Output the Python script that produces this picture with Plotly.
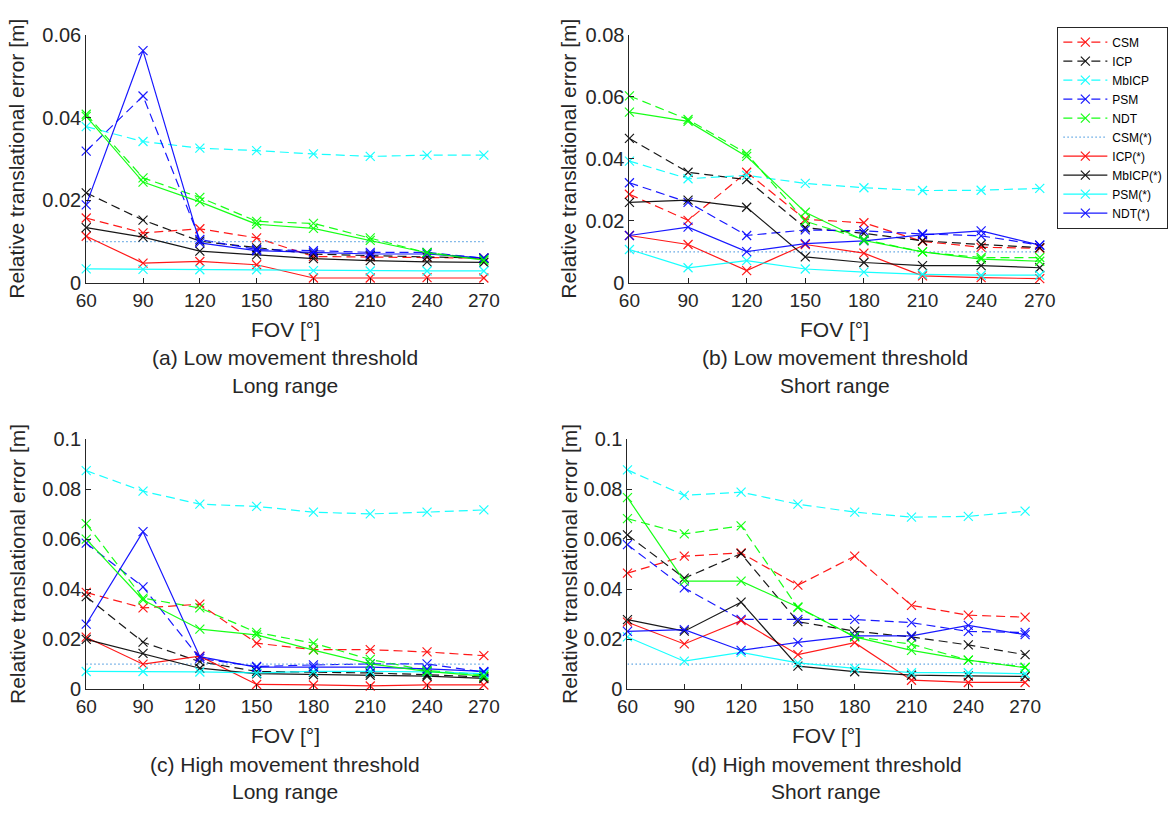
import plotly.graph_objects as go

W, H = 1173, 816

fov = [60, 90, 120, 150, 180, 210, 240, 270]
xtick_labels = ["60", "90", "120", "150", "180", "210", "240", "270"]

# ---------- (a) Low movement threshold, Long range ----------
CSM_a = [0.0157, 0.0121, 0.0131, 0.0109, 0.0064, 0.0063, 0.0062, 0.0060]
ICP_a = [0.0218, 0.0152, 0.0101, 0.0085, 0.0070, 0.0066, 0.0063, 0.0060]
MbICP_a = [0.0378, 0.0342, 0.0326, 0.0320, 0.0312, 0.0306, 0.0309, 0.0309]
PSM_a = [0.0319, 0.0452, 0.0105, 0.0081, 0.0078, 0.0074, 0.0074, 0.0060]
NDT_a = [0.0408, 0.0254, 0.0207, 0.0149, 0.0144, 0.0109, 0.0073, 0.0058]
CSMs_a = [0.01, 0.01, 0.01, 0.01, 0.01, 0.01, 0.01, 0.01]
ICPs_a = [0.0113, 0.0048, 0.0052, 0.0044, 0.0012, 0.0012, 0.0013, 0.0012]
MbICPs_a = [0.0134, 0.0111, 0.0077, 0.0068, 0.0059, 0.0054, 0.0051, 0.0050]
PSMs_a = [0.0034, 0.0033, 0.0032, 0.0032, 0.0030, 0.0029, 0.0029, 0.0029]
NDTs_a = [0.0189, 0.0562, 0.0097, 0.0078, 0.0074, 0.0070, 0.0070, 0.0060]
GREEN_a = [0.0403, 0.0244, 0.0196, 0.0142, 0.0132, 0.0103, 0.0073, 0.0055]

# ---------- (b) Low movement threshold, Short range ----------
CSM_b = [0.0286, 0.0202, 0.0357, 0.0205, 0.0194, 0.0134, 0.0115, 0.0112]
ICP_b = [0.0466, 0.0357, 0.0333, 0.0178, 0.0160, 0.0136, 0.0124, 0.0114]
MbICP_b = [0.0393, 0.0336, 0.0347, 0.0321, 0.0307, 0.0298, 0.0299, 0.0305]
PSM_b = [0.0323, 0.0260, 0.0153, 0.0171, 0.0168, 0.0158, 0.0152, 0.0122]
NDT_b = [0.0603, 0.0527, 0.0417, 0.0199, 0.0140, 0.0100, 0.0082, 0.0082]
CSMs_b = [0.01, 0.01, 0.01, 0.01, 0.01, 0.01, 0.01, 0.01]
ICPs_b = [0.0153, 0.0124, 0.0040, 0.0124, 0.0096, 0.0023, 0.0017, 0.0014]
MbICPs_b = [0.0260, 0.0267, 0.0244, 0.0084, 0.0066, 0.0056, 0.0056, 0.0049]
PSMs_b = [0.0108, 0.0049, 0.0072, 0.0045, 0.0035, 0.0028, 0.0025, 0.0025]
NDTs_b = [0.0153, 0.0180, 0.0101, 0.0127, 0.0136, 0.0155, 0.0168, 0.0122]
GREEN_b = [0.0551, 0.0521, 0.0408, 0.0228, 0.0137, 0.0100, 0.0077, 0.0070]

# ---------- (c) High movement threshold, Long range ----------
CSM_c = [0.0387, 0.0325, 0.0340, 0.0184, 0.0158, 0.0158, 0.0149, 0.0134]
ICP_c = [0.0370, 0.0188, 0.0110, 0.0071, 0.0068, 0.0065, 0.0058, 0.0049]
MbICP_c = [0.0874, 0.0792, 0.0740, 0.0731, 0.0708, 0.0701, 0.0708, 0.0717]
PSM_c = [0.0584, 0.0409, 0.0123, 0.0091, 0.0097, 0.0101, 0.0101, 0.0068]
NDT_c = [0.0662, 0.0364, 0.0325, 0.0227, 0.0184, 0.0119, 0.0075, 0.0058]
CSMs_c = [0.01, 0.01, 0.01, 0.01, 0.01, 0.01, 0.01, 0.01]
ICPs_c = [0.0208, 0.0100, 0.0132, 0.0019, 0.0017, 0.0013, 0.0017, 0.0017]
MbICPs_c = [0.0199, 0.0143, 0.0084, 0.0062, 0.0058, 0.0056, 0.0052, 0.0043]
PSMs_c = [0.0071, 0.0071, 0.0069, 0.0065, 0.0071, 0.0071, 0.0069, 0.0062]
NDTs_c = [0.0260, 0.0630, 0.0130, 0.0088, 0.0088, 0.0088, 0.0081, 0.0071]
GREEN_c = [0.0600, 0.0357, 0.0240, 0.0217, 0.0156, 0.0101, 0.0071, 0.0052]

# ---------- (d) High movement threshold, Short range ----------
CSM_d = [0.0464, 0.0532, 0.0545, 0.0416, 0.0532, 0.0335, 0.0296, 0.0288]
ICP_d = [0.0617, 0.0444, 0.0542, 0.0270, 0.0232, 0.0209, 0.0177, 0.0138]
MbICP_d = [0.0877, 0.0775, 0.0788, 0.0740, 0.0708, 0.0688, 0.0691, 0.0712]
PSM_d = [0.0578, 0.0405, 0.0279, 0.0279, 0.0279, 0.0266, 0.0231, 0.0227]
NDT_d = [0.0682, 0.0621, 0.0653, 0.0326, 0.0210, 0.0180, 0.0116, 0.0088]
CSMs_d = [0.01, 0.01, 0.01, 0.01, 0.01, 0.01, 0.01, 0.01]
ICPs_d = [0.0268, 0.0181, 0.0274, 0.0138, 0.0186, 0.0036, 0.0027, 0.0027]
MbICPs_d = [0.0278, 0.0232, 0.0348, 0.0092, 0.0070, 0.0056, 0.0053, 0.0051]
PSMs_d = [0.0209, 0.0112, 0.0147, 0.0105, 0.0083, 0.0066, 0.0066, 0.0062]
NDTs_d = [0.0231, 0.0238, 0.0155, 0.0187, 0.0213, 0.0213, 0.0255, 0.0218]
GREEN_d = [0.0766, 0.0432, 0.0432, 0.0329, 0.0209, 0.0155, 0.0116, 0.0086]

legend_names = ["CSM", "ICP", "MbICP", "PSM", "NDT",
                "CSM(*)", "ICP(*)", "MbICP(*)", "PSM(*)", "NDT(*)"]

captions = [("(a) Low movement threshold", "Long range"),
            ("(b) Low movement threshold", "Short range"),
            ("(c) High movement threshold", "Long range"),
            ("(d) High movement threshold", "Short range")]

y_max = [0.06, 0.08, 0.1, 0.1]
y_ticks = [[0, 0.02, 0.04, 0.06], [0, 0.02, 0.04, 0.06, 0.08],
           [0, 0.02, 0.04, 0.06, 0.08, 0.1], [0, 0.02, 0.04, 0.06, 0.08, 0.1]]
y_ticktext = [["0", "0.02", "0.04", "0.06"], ["0", "0.02", "0.04", "0.06", "0.08"],
              ["0", "0.02", "0.04", "0.06", "0.08", "0.1"],
              ["0", "0.02", "0.04", "0.06", "0.08", "0.1"]]

panels = [
    [CSM_a, ICP_a, MbICP_a, PSM_a, NDT_a, CSMs_a, ICPs_a, MbICPs_a, PSMs_a, NDTs_a, GREEN_a],
    [CSM_b, ICP_b, MbICP_b, PSM_b, NDT_b, CSMs_b, ICPs_b, MbICPs_b, PSMs_b, NDTs_b, GREEN_b],
    [CSM_c, ICP_c, MbICP_c, PSM_c, NDT_c, CSMs_c, ICPs_c, MbICPs_c, PSMs_c, NDTs_c, GREEN_c],
    [CSM_d, ICP_d, MbICP_d, PSM_d, NDT_d, CSMs_d, ICPs_d, MbICPs_d, PSMs_d, NDTs_d, GREEN_d],
]

# styles: (color, dash, marker?)
DASH = "9px,5px"
styles = [
    ("#FF0000", DASH, True), ("#000000", DASH, True), ("#00FFFF", DASH, True),
    ("#0000FF", DASH, True), ("#00FF00", DASH, True),
    ("#4D9BE0", "1.5px,2.5px", False),
    ("#FF0000", "solid", True), ("#000000", "solid", True), ("#00FFFF", "solid", True),
    ("#0000FF", "solid", True), ("#00FF00", "solid", True),
]

# axis pixel boxes: (left, right, top, bottom)
boxes = [(77, 484, 24.5, 279.5), (633, 1053, 24.5, 279.5),
         (77, 484, 440, 697), (631, 1038, 440, 697)]

fig = go.Figure()
FONT = "Liberation Sans, Arial, Helvetica, sans-serif"
AX = "#262626"

for p, series in enumerate(panels):
    xa = "x" if p == 0 else f"x{p+1}"
    ya = "y" if p == 0 else f"y{p+1}"
    for i, vals in enumerate(series):
        color, dash, mk = styles[i]
        fig.add_trace(go.Scatter(
            x=fov, y=vals, xaxis=xa, yaxis=ya,
            mode="lines+markers" if mk else "lines",
            name=legend_names[i] if i < 10 else "NDT solid",
            legendgroup=str(i),
            showlegend=(p == 0 and i < 10),
            line=dict(color=color, width=1.2, dash=dash),
            marker=dict(symbol="x-thin-open", size=9,
                        line=dict(color=color, width=1.2)),
            opacity=0.9,
            cliponaxis=False,
        ))

layout = dict(
    width=W, height=H,
    margin=dict(l=0, r=0, t=0, b=0),
    paper_bgcolor="white", plot_bgcolor="white",
    font=dict(family=FONT, size=20, color=AX),
    showlegend=True,
    legend=dict(x=1071 / W, y=1 - 16 / H, xanchor="left", yanchor="top",
                bordercolor=AX, borderwidth=1, bgcolor="white",
                font=dict(size=12, color="#000000"),
                itemwidth=44, tracegroupgap=0,
                traceorder="normal"),
)

annotations = []
for p in range(4):
    l, r, t, b = boxes[p]
    xk = "xaxis" if p == 0 else f"xaxis{p+1}"
    yk = "yaxis" if p == 0 else f"yaxis{p+1}"
    anchor_y = "y" if p == 0 else f"y{p+1}"
    anchor_x = "x" if p == 0 else f"x{p+1}"
    layout[xk] = dict(
        domain=[l / W, r / W], anchor=anchor_y, range=[60, 270],
        tickvals=fov, ticktext=xtick_labels, ticks="inside", ticklen=5,
        tickcolor=AX, showline=True, linecolor=AX, linewidth=1,
        showgrid=False, zeroline=False, tickfont=dict(size=19, color=AX),
    )
    layout[yk] = dict(
        domain=[1 - b / H, 1 - t / H], anchor=anchor_x, range=[0, y_max[p]],
        tickvals=y_ticks[p], ticktext=y_ticktext[p], ticks="inside", ticklen=5,
        tickcolor=AX, showline=True, linecolor=AX, linewidth=1,
        showgrid=False, zeroline=False, tickfont=dict(size=20, color=AX),
    )
    cx = (l + r) / 2
    ylab_x = 6 if p in (0, 2) else 571
    annotations.append(dict(
        text="Relative translational error [m]", textangle=-90,
        x=ylab_x / W, y=1 - ((t + b) / 2) / H, xref="paper", yref="paper",
        xanchor="center", yanchor="middle", showarrow=False,
        font=dict(size=21, color=AX)))
    for txt, py in (("FOV [°]", b + 48), (captions[p][0], b + 77), (captions[p][1], b + 105)):
        annotations.append(dict(
            text=txt, x=cx / W, y=1 - py / H, xref="paper", yref="paper",
            xanchor="center", yanchor="middle", showarrow=False,
            font=dict(size=21, color=AX)))

layout["annotations"] = annotations
fig.update_layout(**layout)

fig.write_html("out.html")
